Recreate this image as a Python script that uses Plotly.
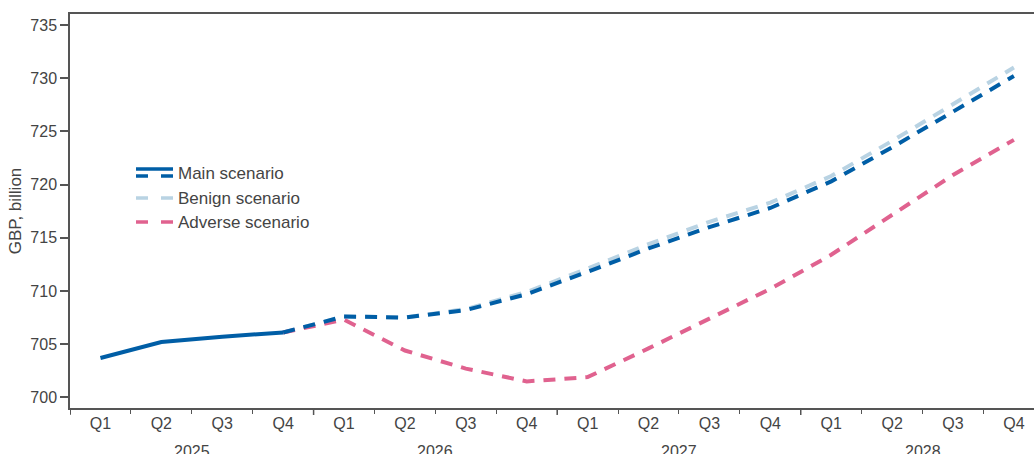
import plotly.graph_objects as go

# Quarterly periods, 2025 Q1 – 2028 Q4
years = ["2025", "2026", "2027", "2028"]
quarters = ["Q1", "Q2", "Q3", "Q4"]
quarter_labels = quarters * len(years)

# GBP billion
outturn = [703.7, 705.2, 705.7, 706.1]
main_scenario = [706.1, 707.6, 707.5, 708.2, 709.7, 711.8, 714.0, 716.0, 717.8,
                 720.3, 723.5, 726.9, 730.2]
benign_scenario = [706.1, 707.6, 707.5, 708.3, 709.9, 712.1, 714.4, 716.5, 718.3,
                   720.8, 724.1, 727.5, 731.0]
adverse_scenario = [706.1, 707.3, 704.4, 702.7, 701.5, 701.9, 704.6, 707.4, 710.2,
                    713.4, 717.2, 720.9, 724.2]

n = len(quarter_labels)
idx = list(range(n))
outturn_x = idx[:len(outturn)]
scen_x = idx[len(outturn) - 1:]

BLUE = "#005ea6"
LIGHT = "#b9d3e3"
PINK = "#e0628f"
AXIS = "#555555"
TEXT = "#444444"
FONT = "Liberation Sans, Arial, sans-serif"
DASH = "12px,9px"
FS_TICK = 16
FS_TEXT = 17

fig = go.Figure()
fig.add_trace(go.Scatter(x=scen_x, y=benign_scenario, mode="lines",
                         line=dict(color=LIGHT, width=4, dash=DASH),
                         name="Benign scenario", showlegend=False))
fig.add_trace(go.Scatter(x=scen_x, y=adverse_scenario, mode="lines",
                         line=dict(color=PINK, width=4, dash=DASH),
                         name="Adverse scenario", showlegend=False))
fig.add_trace(go.Scatter(x=scen_x, y=main_scenario, mode="lines",
                         line=dict(color=BLUE, width=4, dash=DASH),
                         name="Main scenario", showlegend=False))
fig.add_trace(go.Scatter(x=outturn_x, y=outturn, mode="lines",
                         line=dict(color=BLUE, width=4),
                         name="Main scenario", showlegend=False))

W, H = 1034, 454
L, R, T, B = 70, 0, 14, 46
pw, ph = W - L - R, H - T - B


def px_x(p):
    return (p - L) / pw


def px_y(p):
    return 1 - (p - T) / ph


# Year boundary ticks (longer) below the axis
shapes = []
for k in range(len(years)):
    bx = k * 4 - 0.5
    shapes.append(dict(type="line", xref="x", yref="paper", ysizemode="pixel",
                       yanchor=0, x0=bx, x1=bx, y0=0, y1=-7,
                       line=dict(color=AXIS, width=1.5)))

# Legend drawn by hand: main scenario has a solid-over-dashed key
legend_items = [("Main scenario", BLUE, 173), ("Benign scenario", LIGHT, 198),
                ("Adverse scenario", PINK, 222)]
annotations = []
for name, col, yc in legend_items:
    if name == "Main scenario":
        shapes.append(dict(type="line", xref="paper", yref="paper",
                           x0=px_x(136), x1=px_x(173), y0=px_y(yc - 4), y1=px_y(yc - 4),
                           line=dict(color=col, width=3.5)))
        yd = yc + 3
    else:
        yd = yc
    for a, b in [(136, 148), (161, 173)]:
        shapes.append(dict(type="line", xref="paper", yref="paper",
                           x0=px_x(a), x1=px_x(b), y0=px_y(yd), y1=px_y(yd),
                           line=dict(color=col, width=3.5)))
    annotations.append(dict(text=name, xref="paper", yref="paper",
                            x=px_x(176), y=px_y(yc), xanchor="left", yanchor="middle",
                            showarrow=False, font=dict(size=FS_TEXT, color=TEXT, family=FONT)))

for k, yr in enumerate(years):
    annotations.append(dict(text=yr, xref="x", yref="paper", x=k * 4 + 1.5, y=0,
                            yshift=-33, yanchor="top", xanchor="center", showarrow=False,
                            font=dict(size=FS_TICK, color=TEXT, family=FONT)))

fig.update_layout(
    width=W, height=H,
    margin=dict(l=L, r=R, t=T, b=B),
    plot_bgcolor="white", paper_bgcolor="white",
    font=dict(family=FONT, color=TEXT, size=FS_TICK),
    showlegend=False,
    shapes=shapes,
    annotations=annotations,
    xaxis=dict(
        range=[-0.5, 15.33], tickmode="array", tickvals=idx, ticktext=quarter_labels,
        ticks="", showline=True, linecolor=AXIS, linewidth=1.5, mirror=True,
        showgrid=False, zeroline=False, tickfont=dict(size=FS_TICK, color=TEXT),
        minor=dict(tickmode="linear", tick0=-0.5, dtick=1, ticks="outside",
                   ticklen=4, tickcolor=AXIS, tickwidth=1, showgrid=False),
    ),
    yaxis=dict(
        range=[699, 736.03], tickmode="array", tickvals=list(range(700, 736, 5)),
        ticks="outside", ticklen=8, tickcolor=AXIS, tickwidth=1.5,
        showline=True, linecolor=AXIS, linewidth=1.5, showgrid=False, zeroline=False,
        tickfont=dict(size=FS_TICK, color=TEXT),
        title=dict(text="GBP, billion", font=dict(size=FS_TEXT, color=TEXT), standoff=4),
    ),
)

fig.write_html("out.html")
